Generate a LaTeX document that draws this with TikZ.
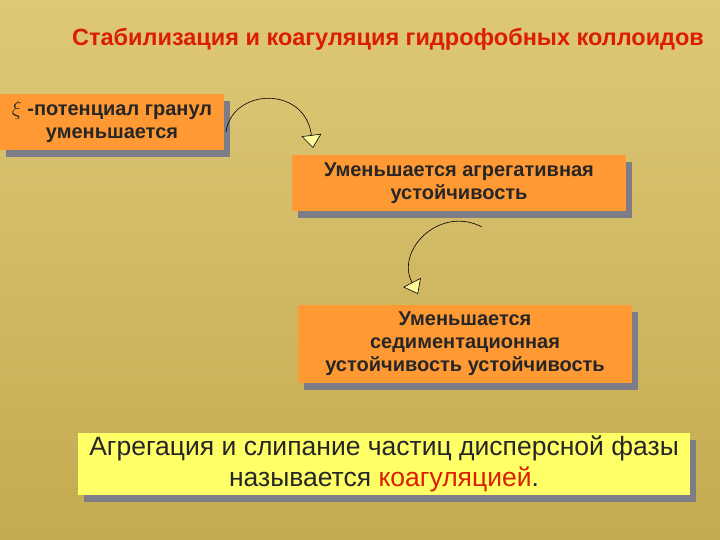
\documentclass[tikz,border=0pt]{standalone}
\usepackage{fontspec}
\setmainfont{Liberation Sans}
\usetikzlibrary{arrows.meta,shadows}
\definecolor{bgA}{RGB}{222,200,120}
\definecolor{bgB}{RGB}{196,170,80}
\definecolor{org}{RGB}{255,153,51}
\definecolor{yel}{RGB}{255,255,102}
\definecolor{shd}{RGB}{125,125,135}
\definecolor{ttl}{RGB}{220,30,0}
\begin{document}
\begin{tikzpicture}[x=1pt,y=-1pt,
 box/.style={draw=none,fill=org,inner sep=0pt,align=center,font=\bfseries\fontsize{20}{23}\selectfont,text=black!85,
   drop shadow={shadow xshift=6pt,shadow yshift=-7pt,fill=shd,opacity=1}},
 conn/.style={draw=black,line width=0.6pt,-{Triangle[open,length=13pt,width=20pt,fill=yellow!40]}}]
\shade[top color=bgA,bottom color=bgB] (0,0) rectangle (720,540);
\node[font=\bfseries\fontsize{23.5}{26}\selectfont,text=ttl] (title) at (388,39) {Стабилизация и коагуляция гидрофобных коллоидов};
\node[box,minimum width=224pt,minimum height=56pt] (b1) at (112,122) {$\xi$ -потенциал гранул\\уменьшается};
\node[box,minimum width=334pt,minimum height=56pt] (b2) at (459,183) {Уменьшается агрегативная\\устойчивость};
\node[box,minimum width=334pt,minimum height=78pt] (b3) at (465,344) {Уменьшается\\седиментационная\\устойчивость устойчивость};
\node[box,fill=yel,minimum width=612pt,minimum height=62pt,font=\fontsize{26.5}{31}\selectfont] (b4) at (384,464) {Агрегация и слипание частиц дисперсной фазы\\называется \textcolor{ttl}{коагуляцией}.};
\coordinate (c1) at (226,132);
\coordinate (c2) at (482,227);
\draw[conn] (c1) .. controls (232,88) and (305,85) .. (313,148);
\draw[conn] (c2) .. controls (440,205) and (395,250) .. (418,294);
\end{tikzpicture}
\end{document}
